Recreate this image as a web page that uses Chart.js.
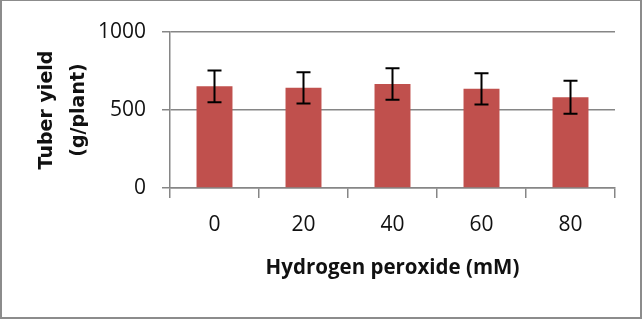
<!DOCTYPE html>
<html>
<head>
<meta charset="utf-8">
<script src="https://cdn.jsdelivr.net/npm/chart.js@4/dist/chart.umd.min.js"></script>
<style>
  html, body { margin: 0; padding: 0; background: #fff; }
  #wrap { width: 642px; height: 320px; }
</style>
</head>
<body>
<div id="wrap"><canvas id="bar" width="642" height="320"></canvas></div>
<script>
// values
var doses = ["0", "20", "40", "60", "80"];
var yieldMeans = [652, 642, 667, 636, 582];
var yieldErrors = [102, 100, 101, 100, 106];
var yTicks = [0, 500, 1000];

// draws the +/- error whiskers through the chart's own scales
var errorBars = {
    id: 'errorBars',
    afterDatasetsDraw: function (chart) {
        var ctx = chart.ctx;
        var meta = chart.getDatasetMeta(0);
        var yScale = chart.scales.y;
        ctx.save();
        ctx.strokeStyle = '#000';
        ctx.lineWidth = 2;
        for (var i = 0; i < meta.data.length; i++) {
            var x = meta.data[i].x;
            var top = yScale.getPixelForValue(yieldMeans[i] + yieldErrors[i]);
            var bottom = yScale.getPixelForValue(yieldMeans[i] - yieldErrors[i]);
            ctx.beginPath();
            ctx.moveTo(x, top);
            ctx.lineTo(x, bottom);
            ctx.moveTo(x - 7, top);
            ctx.lineTo(x + 7, top);
            ctx.moveTo(x - 7, bottom);
            ctx.lineTo(x + 7, bottom);
            ctx.stroke();
        }
        ctx.restore();
    }
};

var frame = {
    id: 'frame',
    beforeDraw: function (chart) {
        var ctx = chart.ctx;
        ctx.save();
        ctx.fillStyle = '#fff';
        ctx.fillRect(0, 0, chart.width, chart.height);
        ctx.strokeStyle = '#8c8c8c';
        ctx.lineWidth = 2;
        ctx.strokeRect(1, 0, 640, 318);
        ctx.restore();
    }
};

var ctx = document.getElementById("bar").getContext("2d");

var bar = new Chart(ctx, {
    type: 'bar',
    data: {
        labels: doses,
        datasets: [{
            label: 'Tuber yield',
            data: yieldMeans,
            backgroundColor: '#C0504D',
            borderWidth: 0,
            categoryPercentage: 0.8,
            barPercentage: 0.505
        }]
    },
    options: {
        responsive: false,
        animation: false,
        layout: { padding: { left: 0, right: 27, top: 32, bottom: 0 } },
        plugins: {
            legend: { display: false },
            tooltip: { enabled: false }
        },
        scales: {
            x: {
                grid: {
                    drawOnChartArea: false,
                    drawTicks: true,
                    tickLength: 10,
                    color: '#868686',
                    lineWidth: 1.5
                },
                border: { color: '#868686', width: 1.5 },
                ticks: {
                    color: '#111',
                    padding: 14,
                    font: { family: 'Open Sans', size: 21 }
                },
                title: {
                    display: true,
                    text: 'Hydrogen peroxide (mM)',
                    color: '#111',
                    font: { family: 'Open Sans', size: 20.5, weight: 'bold' },
                    padding: { top: 0, bottom: 40 }
                },
                afterFit: function (scale) { scale.height = 132; }
            },
            y: {
                min: 0,
                max: 1000,
                afterBuildTicks: function (scale) {
                    scale.ticks = yTicks.map(function (v) { return { value: v }; });
                },
                grid: {
                    color: '#868686',
                    lineWidth: 1.5,
                    tickLength: 8
                },
                border: { color: '#868686', width: 1.5 },
                ticks: {
                    color: '#111',
                    padding: 16,
                    font: { family: 'Open Sans', size: 21 },
                    callback: function (v) { return String(v); }
                },
                title: {
                    display: true,
                    text: ['Tuber yield', '(g/plant)'],
                    color: '#111',
                    font: { family: 'DejaVu Sans', size: 19, weight: 'bold', lineHeight: 1.7 },
                    padding: { top: 31, bottom: 0 }
                },
                afterFit: function (scale) { scale.width = 170; }
            }
        }
    },
    plugins: [frame, errorBars]
});
</script>
</body>
</html>
